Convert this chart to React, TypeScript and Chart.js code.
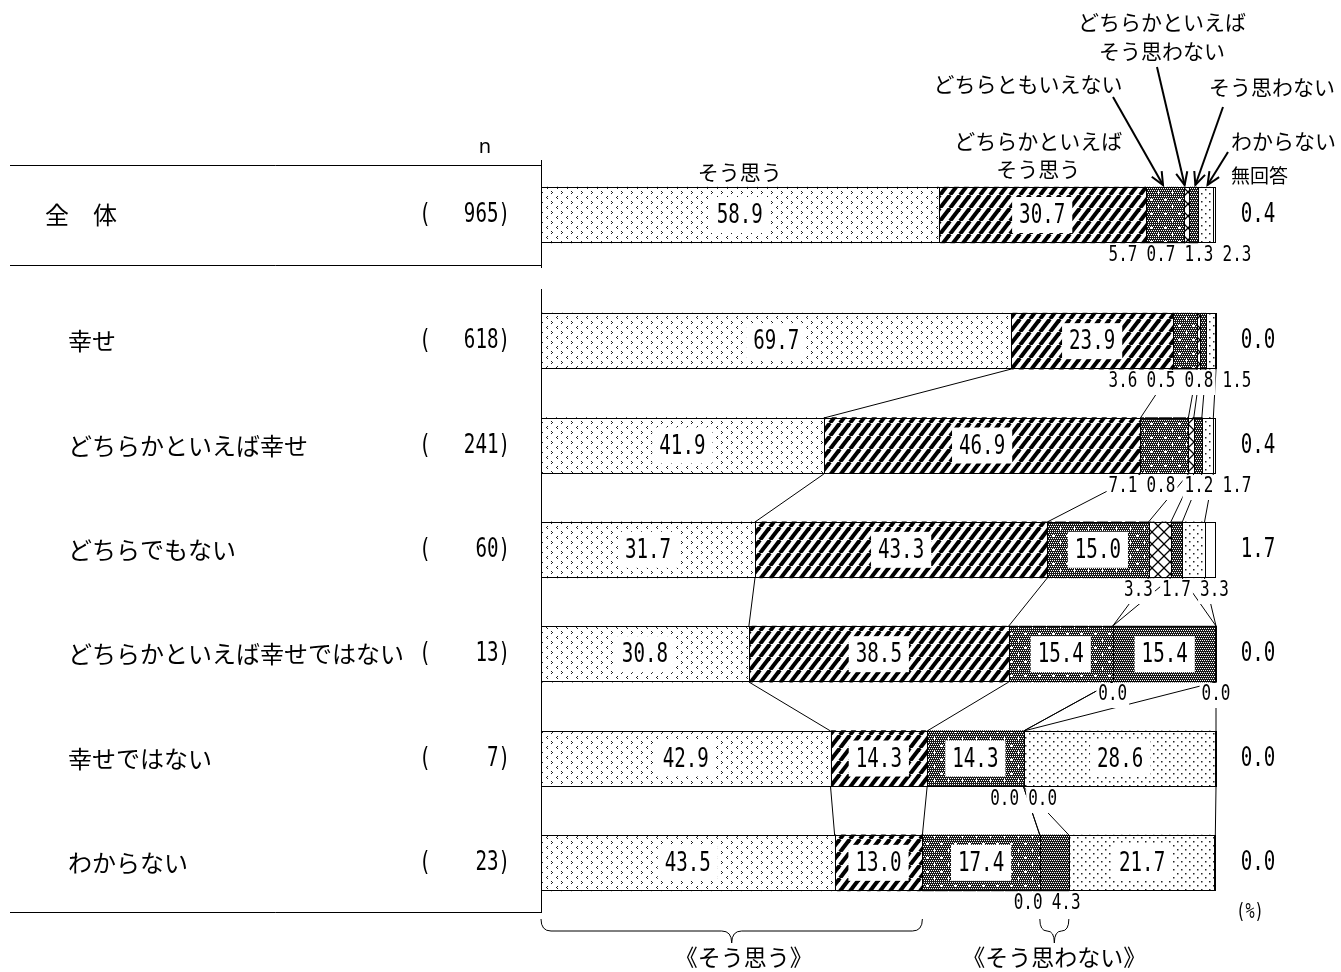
import React, { useEffect, useRef } from "react";
import { Chart, registerables } from "chart.js";
Chart.register(...registerables);

// ---------------- data ----------------
const seriesNames = [
  "そう思う",
  "どちらかといえばそう思う",
  "どちらともいえない",
  "どちらかといえばそう思わない",
  "そう思わない",
  "わからない",
  "無回答",
];
const headerLines = [
  ["そう思う"],
  ["どちらかといえば", "そう思う"],
  ["どちらともいえない"],
  ["どちらかといえば", "そう思わない"],
  ["そう思わない"],
  ["わからない"],
  ["無回答"],
];

const totalLabels = ["全　体"];
const totalN = [965];
const totalSouOmou = [58.9];
const totalDochiraSou = [30.7];
const totalDochiraTomo = [5.7];
const totalDochiraNai = [0.7];
const totalSouOmowanai = [1.3];
const totalWakaranai = [2.3];
const totalMukaitou = [0.4];

const rowLabels = [
  "幸せ",
  "どちらかといえば幸せ",
  "どちらでもない",
  "どちらかといえば幸せではない",
  "幸せではない",
  "わからない",
];
const rowN = [618, 241, 60, 13, 7, 23];
const souOmou = [69.7, 41.9, 31.7, 30.8, 42.9, 43.5];
const dochiraSou = [23.9, 46.9, 43.3, 38.5, 14.3, 13.0];
const dochiraTomo = [3.6, 7.1, 15.0, 15.4, 14.3, 17.4];
const dochiraNai = [0.5, 0.8, 3.3, 0.0, 0.0, 0.0];
const souOmowanai = [0.8, 1.2, 1.7, 15.4, 0.0, 4.3];
const wakaranai = [1.5, 1.7, 3.3, 0.0, 28.6, 21.7];
const mukaitou = [0.0, 0.4, 1.7, 0.0, 0.0, 0.0];

const bottomGroups = ["《そう思う》", "《そう思わない》"];

// ---------------- helpers ----------------
const JP = '"Noto Sans CJK JP", "Noto Sans", sans-serif';
const NUM = '"DejaVu Sans Mono", "Liberation Mono", monospace';
const BIG = 27, BIGSX = 0.71;
const SMALL = 21, SMALLSX = 0.76;

function drawNum(ctx: CanvasRenderingContext2D, text: string, x: number, y: number, size: number, sx: number, align: "left" | "center" | "right" = "center") {
  ctx.save();
  ctx.font = `${size}px ${NUM}`;
  const w = ctx.measureText(text).width * sx;
  const left = align === "center" ? x - w / 2 : align === "right" ? x - w : x;
  ctx.translate(left, y);
  ctx.scale(sx, 1);
  ctx.textAlign = "left";
  ctx.textBaseline = "middle";
  ctx.fillStyle = "#000";
  ctx.fillText(text, 0, 0);
  ctx.restore();
  return w;
}
function numWidth(ctx: CanvasRenderingContext2D, text: string, size: number, sx: number) {
  ctx.save();
  ctx.font = `${size}px ${NUM}`;
  const w = ctx.measureText(text).width * sx;
  ctx.restore();
  return w;
}
function drawJP(ctx: CanvasRenderingContext2D, text: string, x: number, y: number, size: number, align: CanvasTextAlign = "left") {
  ctx.save();
  ctx.font = `${size}px ${JP}`;
  ctx.textAlign = align;
  ctx.textBaseline = "middle";
  ctx.fillStyle = "#000";
  ctx.fillText(text, x, y);
  ctx.restore();
}
function line(ctx: CanvasRenderingContext2D, x1: number, y1: number, x2: number, y2: number) {
  ctx.beginPath();
  ctx.moveTo(x1, y1);
  ctx.lineTo(x2, y2);
  ctx.stroke();
}
function arrow(ctx: CanvasRenderingContext2D, x1: number, y1: number, x2: number, y2: number) {
  ctx.save();
  ctx.lineWidth = 2;
  line(ctx, x1, y1, x2, y2);
  const a = Math.atan2(y2 - y1, x2 - x1);
  const L = 14, s = 0.42;
  ctx.beginPath();
  ctx.moveTo(x2 - L * Math.cos(a - s), y2 - L * Math.sin(a - s));
  ctx.lineTo(x2, y2);
  ctx.lineTo(x2 - L * Math.cos(a + s), y2 - L * Math.sin(a + s));
  ctx.stroke();
  ctx.restore();
}
function brace(ctx: CanvasRenderingContext2D, x0: number, x1: number, y: number, h: number, xm: number) {
  const r = Math.min(10, (x1 - x0) / 4);
  const ym = y + h / 2;
  ctx.beginPath();
  ctx.moveTo(x0, y);
  ctx.quadraticCurveTo(x0, ym, x0 + r, ym);
  ctx.lineTo(xm - r, ym);
  ctx.quadraticCurveTo(xm, ym, xm, y + h);
  ctx.quadraticCurveTo(xm, ym, xm + r, ym);
  ctx.lineTo(x1 - r, ym);
  ctx.quadraticCurveTo(x1, ym, x1, y);
  ctx.stroke();
}

function spread(xs: number[], pitch: number, maxX: number) {
  const cl = xs.map((x) => ({ n: 1, sum: x }));
  const first = (c: { n: number; sum: number }) => c.sum / c.n - ((c.n - 1) * pitch) / 2;
  let changed = true;
  while (changed) {
    changed = false;
    for (let i = 0; i < cl.length - 1; i++) {
      const a = cl[i], b = cl[i + 1];
      if (first(a) + a.n * pitch > first(b) + 0.01) {
        a.n += b.n;
        a.sum += b.sum;
        cl.splice(i + 1, 1);
        changed = true;
        break;
      }
    }
  }
  const out: number[] = [];
  cl.forEach((c) => {
    const p = first(c);
    for (let i = 0; i < c.n; i++) out.push(p + i * pitch);
  });
  for (let i = out.length - 1; i >= 0; i--) {
    const lim = i === out.length - 1 ? maxX : out[i + 1] - pitch;
    out[i] = Math.min(out[i], lim);
  }
  return out;
}

// ---------------- patterns ----------------
function tile(w: number, h: number, draw: (g: CanvasRenderingContext2D) => void, bg = "#fff") {
  const c = document.createElement("canvas");
  c.width = w;
  c.height = h;
  const g = c.getContext("2d")!;
  g.fillStyle = bg;
  g.fillRect(0, 0, w, h);
  draw(g);
  return g.createPattern(c, "repeat")!;
}
function makeFills() {
  const chevron = tile(10, 10, (g) => {
    g.fillStyle = "#222";
    const px = (x: number, y: number) => g.fillRect(x, y, 1, 1);
    // ">"
    px(1, 1); px(2, 2); px(1, 3);
    // "<"
    px(7, 6); px(6, 7); px(7, 8);
  });
  const stripes = tile(10, 13, (g) => {
    g.strokeStyle = "#000";
    g.lineWidth = 4;
    for (const o of [-10, 0, 10]) {
      g.beginPath();
      g.moveTo(o, 13);
      g.lineTo(o + 10, 0);
      g.stroke();
    }
  });
  const checkerDraw = (g: CanvasRenderingContext2D, w: number, h: number) => {
    g.fillStyle = "#1a1a1a";
    g.fillRect(0, 0, w, h);
    g.fillStyle = "#fff";
    for (let y = 0; y < h; y += 2) for (let x = (y / 2) % 2; x < w; x += 2) g.fillRect(x, y, 1, 1);
  };
  const crossChecker = tile(14, 14, (g) => {
    checkerDraw(g, 14, 14);
    g.fillStyle = "#fff";
    const plus = (cx: number, cy: number) => {
      g.fillRect(cx - 1, cy, 3, 1);
      g.fillRect(cx, cy - 1, 1, 3);
    };
    plus(3, 3);
    plus(10, 10);
  });
  const xhatch = tile(12, 12, (g) => {
    g.strokeStyle = "#000";
    g.lineWidth = 1.3;
    g.beginPath();
    g.moveTo(0, 0); g.lineTo(12, 12);
    g.moveTo(0, 12); g.lineTo(12, 0);
    g.stroke();
  });
  const checker = tile(4, 4, (g) => checkerDraw(g, 4, 4));
  const dots = tile(8, 8, (g) => {
    g.fillStyle = "#222";
    g.fillRect(1, 1, 1.5, 1.5);
    g.fillRect(5, 5, 1.5, 1.5);
  });
  return [chevron, stripes, crossChecker, xhatch, checker, dots, "#ffffff"];
}

// ---------------- drawing plugin ----------------
type Cols = number[][];

function drawDeco(chart: any, labels: string[], cols: Cols, ns: number[], isTop: boolean) {
  const ctx: CanvasRenderingContext2D = chart.ctx;
  const xs = chart.scales.x;
  const area = chart.chartArea;
  const OY = isTop ? 0 : 280;
  const px = (v: number) => xs.getPixelForValue(Math.min(100, v));
  const rows = labels.map((_, j) => {
    const vals = cols.map((c) => c[j]);
    const cum = [0];
    vals.forEach((v, k) => cum.push(cum[k] + v));
    const el = chart.getDatasetMeta(0).data[j];
    const h = el.height || 56;
    return { vals, cum, yc: el.y, top: Math.round(el.y - h / 2), bot: Math.round(el.y + h / 2) };
  });

  ctx.save();
  ctx.strokeStyle = "#000";
  ctx.lineWidth = 1;

  // bar outlines and segment borders
  rows.forEach((r) => {
    const x0 = Math.round(px(0)) + 0.5;
    const x1 = Math.round(px(r.cum[7])) - 0.5;
    ctx.strokeRect(x0, r.top + 0.5, x1 - x0, r.bot - r.top - 1);
    for (let k = 1; k <= 6; k++) {
      const xb = Math.round(px(r.cum[k])) + 0.5;
      line(ctx, xb, r.top, xb, r.bot);
    }
  });

  // connecting lines between rows
  if (!isTop) {
    for (let j = 0; j < rows.length - 1; j++) {
      for (let k = 1; k <= 6; k++) {
        line(ctx, px(rows[j].cum[k]), rows[j].bot, px(rows[j + 1].cum[k]), rows[j + 1].top);
      }
    }
  }

  // value labels
  rows.forEach((r) => {
    const small: { x: number; t: string }[] = [];
    for (let k = 0; k < 6; k++) {
      const v = r.vals[k];
      const cx = px(r.cum[k] + v / 2);
      const t = v.toFixed(1);
      if (v >= 10) {
        const w = numWidth(ctx, t, BIG, BIGSX);
        ctx.fillStyle = "#fff";
        ctx.fillRect(cx - w / 2 - 7, r.yc - 18, w + 14, 36);
        drawNum(ctx, t, cx, r.yc + 1, BIG, BIGSX);
      } else {
        small.push({ x: cx, t });
      }
    }
    const pos = spread(small.map((s) => s.x), 38, area.right + 21);
    small.forEach((s, i) => {
      const w = numWidth(ctx, s.t, SMALL, SMALLSX);
      const yy = r.bot + 13;
      ctx.fillStyle = "#fff";
      ctx.fillRect(pos[i] - w / 2 - 2, yy - 12, w + 4, 25);
      drawNum(ctx, s.t, pos[i], yy, SMALL, SMALLSX);
    });
    // 無回答 value on the right
    drawNum(ctx, r.vals[6].toFixed(1), 1258, r.yc, BIG, BIGSX);
  });

  // left table labels
  rows.forEach((r, j) => {
    drawJP(ctx, labels[j], isTop ? 45 : 68, r.yc, 24);
    drawNum(ctx, "(", 425, r.yc, BIG, BIGSX);
    drawNum(ctx, `${ns[j]})`, 510, r.yc, BIG, BIGSX, "right");
  });

  // axis line at left of bars
  const ax = Math.round(area.left) + 0.5;
  if (isTop) {
    line(ctx, ax, 160, ax, 268);
    line(ctx, 10, 165.5, ax, 165.5);
    line(ctx, 10, 265.5, ax, 265.5);
    ctx.save();
    ctx.font = `20px "Noto Sans", sans-serif`;
    ctx.fillStyle = "#000";
    ctx.textAlign = "center";
    ctx.textBaseline = "middle";
    ctx.fillText("n", 485, 147);
    ctx.restore();

    // header annotations
    const r = rows[0];
    const seg = (k: number) => px(r.cum[k] + r.vals[k] / 2);
    const headTop = r.top - 2;
    drawJP(ctx, headerLines[0][0], seg(0), 172, 21, "center");
    drawJP(ctx, headerLines[1][0], seg(1) - 4, 141, 21, "center");
    drawJP(ctx, headerLines[1][1], seg(1) - 4, 169, 21, "center");
    drawJP(ctx, headerLines[2][0], 1028, 84, 21, "center");
    arrow(ctx, 1113, 97, seg(2) - 2, headTop);
    drawJP(ctx, headerLines[3][0], 1162, 22, 21, "center");
    drawJP(ctx, headerLines[3][1], 1162, 51, 21, "center");
    arrow(ctx, 1157, 67, seg(3) - 2, headTop);
    drawJP(ctx, headerLines[4][0], 1272, 87, 21, "center");
    arrow(ctx, 1223, 107, seg(4) + 2, headTop);
    drawJP(ctx, headerLines[5][0], 1231, 141, 21, "left");
    arrow(ctx, 1228, 152, seg(5) + 2, headTop);
    drawJP(ctx, headerLines[6][0], 1231, 176, 19, "left");
  } else {
    line(ctx, ax, area.top, ax, 913 - OY);
    line(ctx, 10, 912.5 - OY, ax, 912.5 - OY);

    // braces under the last row
    const r = rows[rows.length - 1];
    const bx0 = px(0), bx1 = px(r.cum[2]);
    const sx0 = px(r.cum[3]), sx1 = px(r.cum[5]);
    ctx.lineWidth = 1;
    const by = 919 - OY;
    brace(ctx, bx0, bx1, by, 24, (bx0 + bx1) / 2);
    brace(ctx, sx0, sx1, by, 24, (sx0 + sx1) / 2);
    drawJP(ctx, bottomGroups[0], (bx0 + bx1) / 2 + 12, 957 - OY, 23, "center");
    drawJP(ctx, bottomGroups[1], (sx0 + sx1) / 2, 957 - OY, 23, "center");
    // (%)
    drawNum(ctx, "(%)", 1250, 913 - OY, 21, 0.72);
  }
  ctx.restore();
}

function buildChart(canvas: HTMLCanvasElement, labels: string[], cols: Cols, ns: number[], isTop: boolean, fills: any[]) {
  const plugin = {
    id: "deco",
    afterDatasetsDraw(chart: any) {
      drawDeco(chart, labels, cols, ns, isTop);
    },
  };
  return new Chart(canvas, {
    type: "bar",
    data: {
      labels,
      datasets: cols.map((d, k) => ({
        label: seriesNames[k],
        data: d,
        backgroundColor: fills[k],
        borderWidth: 0,
        barThickness: 56,
      })),
    },
    options: {
      indexAxis: "y",
      responsive: false,
      animation: false,
      devicePixelRatio: 1,
      layout: isTop
        ? { padding: { left: 541, right: 125, top: 165, bottom: 15 } }
        : { padding: { left: 541, right: 125, top: 9, bottom: 57 } },
      scales: {
        x: { stacked: true, min: 0, max: 100, display: false },
        y: { stacked: true, display: false },
      },
      plugins: { legend: { display: false }, tooltip: { enabled: false } },
    } as any,
    plugins: [plugin],
  } as any);
}

export default function App() {
  const topRef = useRef<HTMLCanvasElement>(null);
  const botRef = useRef<HTMLCanvasElement>(null);
  useEffect(() => {
    document.body.style.margin = "0";
    const fills = makeFills();
    const c1 = buildChart(
      topRef.current!,
      totalLabels,
      [totalSouOmou, totalDochiraSou, totalDochiraTomo, totalDochiraNai, totalSouOmowanai, totalWakaranai, totalMukaitou],
      totalN,
      true,
      fills
    );
    const c2 = buildChart(
      botRef.current!,
      rowLabels,
      [souOmou, dochiraSou, dochiraTomo, dochiraNai, souOmowanai, wakaranai, mukaitou],
      rowN,
      false,
      fills
    );
    return () => {
      c1.destroy();
      c2.destroy();
    };
  }, []);
  return (
    <div style={{ position: "relative", width: 1341, height: 972, background: "#fff", overflow: "hidden" }}>
      <canvas ref={topRef} width={1341} height={280} style={{ position: "absolute", left: 0, top: 0, width: 1341, height: 280 }} />
      <canvas ref={botRef} width={1341} height={692} style={{ position: "absolute", left: 0, top: 280, width: 1341, height: 692 }} />
    </div>
  );
}
